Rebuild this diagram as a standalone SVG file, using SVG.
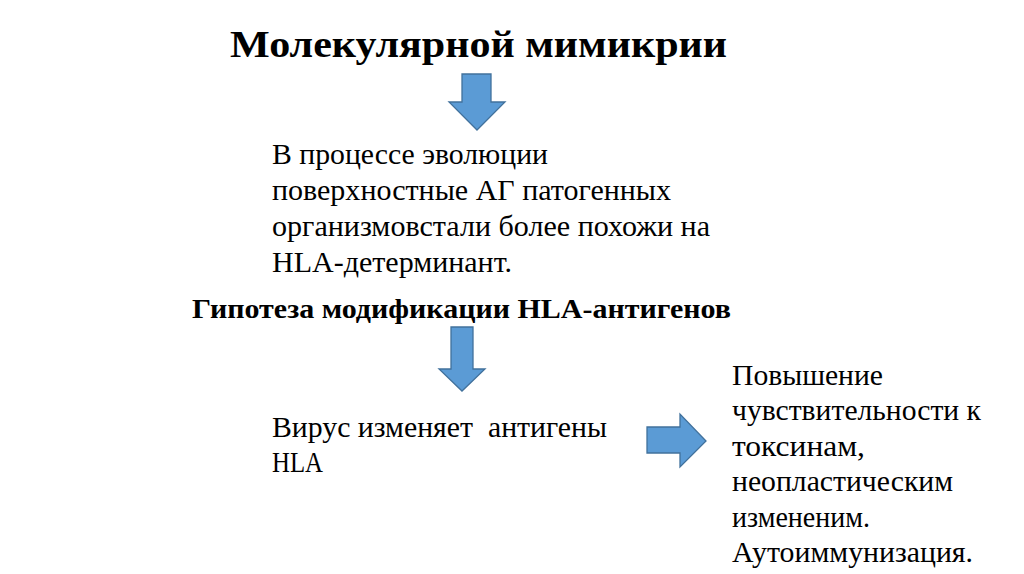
<svg xmlns="http://www.w3.org/2000/svg" width="1024" height="574" viewBox="0 0 1024 574">
<style>
.t{font-family:"Liberation Serif","Times New Roman",Times,Tinos,"DejaVu Serif","Noto Serif",serif;fill:#000;}
.r{font-size:30px;}
.b{font-weight:bold;}
.arr{fill:#5b9bd5;stroke:#41719c;stroke-width:1.3;}
</style>
<rect width="1024" height="574" fill="#fff"/>
<g id="title"><text class="t b" x="230" y="57" font-size="37" textLength="497" lengthAdjust="spacingAndGlyphs">Молекулярной мимикрии</text></g>
<g id="evolution"><text class="t r" x="272" y="164" textLength="276" lengthAdjust="spacingAndGlyphs">В процессе эволюции</text>
<text class="t r" x="272" y="200" textLength="399" lengthAdjust="spacingAndGlyphs">поверхностные АГ патогенных</text>
<text class="t r" x="272" y="236" textLength="438" lengthAdjust="spacingAndGlyphs">организмовстали более похожи на</text>
<text class="t r" x="272" y="272" textLength="240" lengthAdjust="spacingAndGlyphs">HLA-детерминант.</text></g>
<g id="hypothesis"><text class="t b" x="192" y="318" font-size="28" textLength="539" lengthAdjust="spacingAndGlyphs">Гипотеза модификации HLA-антигенов</text></g>
<g id="virus"><text class="t r" x="272" y="437" xml:space="preserve" textLength="335" lengthAdjust="spacingAndGlyphs">Вирус изменяет  антигены</text>
<text class="t r" x="272" y="472" textLength="51" lengthAdjust="spacingAndGlyphs">HLA</text></g>
<g id="result"><text class="t r" x="732" y="385" textLength="151" lengthAdjust="spacingAndGlyphs">Повышение</text>
<text class="t r" x="732" y="420" textLength="249" lengthAdjust="spacingAndGlyphs">чувствительности к</text>
<text class="t r" x="732" y="456" textLength="133" lengthAdjust="spacingAndGlyphs">токсинам,</text>
<text class="t r" x="732" y="491" textLength="221" lengthAdjust="spacingAndGlyphs">неопластическим</text>
<text class="t r" x="732" y="527" textLength="138" lengthAdjust="spacingAndGlyphs">измененим.</text>
<text class="t r" x="732" y="562" textLength="241" lengthAdjust="spacingAndGlyphs">Аутоиммунизация.</text></g>
<g id="connectors">
<polygon class="arr" points="462,74 491,74 491,102 505,102 477,130 449,102 462,102"/>
<polygon class="arr" points="451,327 473,327 473,369 485,369 462,391 439,369 451,369"/>
<polygon class="arr" points="647,427 680,427 680,414 706,441 680,467 680,453 647,453"/>
</g>
</svg>
